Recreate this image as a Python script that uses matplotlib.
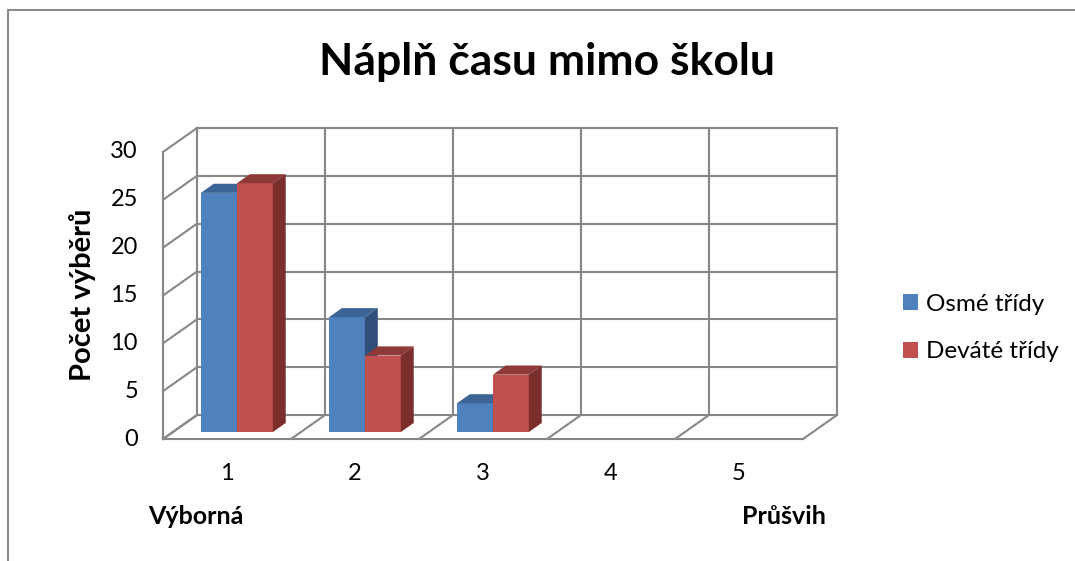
import matplotlib
matplotlib.use("Agg")
import matplotlib.pyplot as plt
from matplotlib.patches import Polygon, Patch, Rectangle

plt.rcParams['font.family'] = ['Lato', 'DejaVu Sans']

# ---- data ----
categories = ["1", "2", "3", "4", "5"]
series_names = ["Osmé třídy", "Deváté třídy"]
osme = [25, 12, 3, 0, 0]
devate = [26, 8, 6, 0, 0]
yticks = [0, 5, 10, 15, 20, 25, 30]
title = "Náplň času mimo školu"
ylabel = "Počet výběrů"
left_note = "Výborná"
right_note = "Průšvih"

# ---- style ----
front_cols = ["#4F81BD", "#C0504D"]
top_cols = ["#3C6494", "#8E3A38"]
side_cols = ["#304F78", "#7A2F2D"]
grid_col = "#878787"

W, H = 1075, 561
fig = plt.figure(figsize=(W / 100, H / 100), dpi=100)
fig.patch.set_facecolor("white")

# outer chart frame
fig.patches.append(Rectangle((8 / W, -0.1), 1.2, 1 - 10 / H + 0.1, transform=fig.transFigure,
                             fill=False, edgecolor="#8C8C8C", linewidth=1.5))

ax = fig.add_axes([197 / W, 1 - 415 / H, 640 / W, 287 / H])
ax.set_xlim(0.5, 5.5)
ax.set_ylim(0, 30)
ax.axis("off")

# depth vector (back wall -> front edge) in data units
DX, DY = -34 / 128, -24 / (287 / 30)
xmin, xmax = 0.5, 5.5
ymax = 30

def ln(xs, ys):
    ax.plot(xs, ys, color=grid_col, lw=1.5, clip_on=False, solid_capstyle="projecting", zorder=1)

# back wall horizontal gridlines + left wall lines
for v in yticks:
    ln([xmin, xmax], [v, v])
    ln([xmin, xmin + DX], [v, v + DY])
# back wall verticals + floor dividers
n = len(categories)
for k in range(n + 1):
    x = xmin + k
    ln([x, x], [0, ymax])
    ln([x, x + DX], [0, DY])
# floor front edge, left wall front edge
ln([xmin + DX, xmax + DX], [DY, DY])
ln([xmin + DX, xmin + DX], [DY, ymax + DY])

# bars
df, db = 0.71, 0.33
bw = 0.281
for i in range(n):
    cx = i + 1 + df * DX
    y0 = df * DY
    ox, oy = (db - df) * DX, (db - df) * DY
    for s, vals in enumerate([osme, devate]):
        v = vals[i]
        if v <= 0:
            continue
        x0 = cx - bw + s * bw
        x1 = x0 + bw
        top = y0 + v
        ax.add_patch(Polygon([(x0, y0), (x1, y0), (x1, top), (x0, top)],
                             closed=True, facecolor=front_cols[s], edgecolor="none", zorder=3, clip_on=False))
        ax.add_patch(Polygon([(x0, top), (x1, top), (x1 + ox, top + oy), (x0 + ox, top + oy)],
                             closed=True, facecolor=top_cols[s], edgecolor="none", zorder=3, clip_on=False))
        ax.add_patch(Polygon([(x1, y0), (x1 + ox, y0 + oy), (x1 + ox, top + oy), (x1, top)],
                             closed=True, facecolor=side_cols[s], edgecolor="none", zorder=3, clip_on=False))

# y tick labels (on the front of the left wall)
for v in yticks:
    ax.annotate(str(v), xy=(xmin + DX, v + DY), xytext=(-18, 0), textcoords="offset points",
                ha="right", va="center", fontsize=17, color="black", annotation_clip=False)

# category labels
for i, c in enumerate(categories):
    ax.annotate(c, xy=(i + 1 + DX, DY), xytext=(0, -25), textcoords="offset points",
                ha="center", va="center", fontsize=17, color="black", annotation_clip=False)

# titles
fig.text(547 / W, 1 - 62 / H, title, ha="center", va="center", fontsize=32, fontweight="bold")
fig.text(83 / W, 1 - 295 / H, ylabel, ha="center", va="center", rotation=90,
         fontsize=21, fontweight="bold")
fig.text(148 / W, 1 - 516 / H, left_note, ha="left", va="center", fontsize=18, fontweight="bold")
fig.text(826 / W, 1 - 516 / H, right_note, ha="right", va="center", fontsize=18, fontweight="bold")

# legend
handles = [Patch(facecolor=front_cols[0], edgecolor="none"),
           Patch(facecolor=front_cols[1], edgecolor="none")]
fig.legend(handles, series_names, loc="center left", bbox_to_anchor=(903 / W, 1 - 328 / H),
           frameon=False, fontsize=17.5, handlelength=0.6, handleheight=0.6,
           handletextpad=0.35, labelspacing=1.1, borderaxespad=0, borderpad=0)

fig.savefig("out.png", dpi=100, facecolor="white")
